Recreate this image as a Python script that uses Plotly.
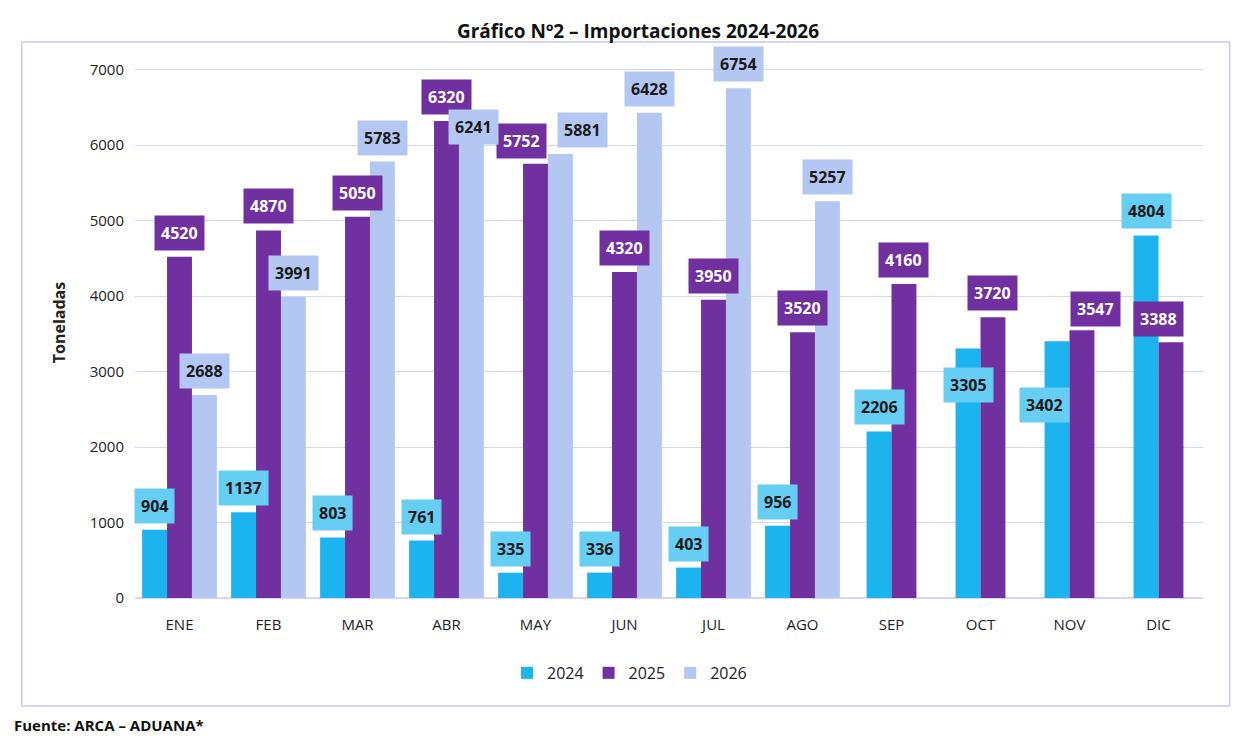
import plotly.graph_objects as go

#----- DATA --------------------------------------------------------------------
months = ['ENE', 'FEB', 'MAR', 'ABR', 'MAY', 'JUN', 'JUL', 'AGO',
          'SEP', 'OCT', 'NOV', 'DIC']
v2024 = [904, 1137, 803, 761, 335, 336, 403, 956, 2206, 3305, 3402, 4804]
v2025 = [4520, 4870, 5050, 6320, 5752, 4320, 3950, 3520, 4160, 3720, 3547, 3388]
v2026 = [2688, 3991, 5783, 6241, 5881, 6428, 6754, 5257]

bar_colors = ['#1CB4EE', '#7030A0', '#B4C7F2']
box_colors = ['#66CDF3', '#7030A0', '#B4C7F2']
text_colors = ['#1a1a1a', 'white', '#1a1a1a']
FONT = 'Open Sans'
W = 0.28

# label nudges (xshift, yshift) where the labels would collide
nudge = {
    ('2026', 'ABR'): (2, 0),
    ('2025', 'MAY'): (-14, 23),
    ('2026', 'MAY'): (22, 24),
    ('2024', 'OCT'): (0, -36),
    ('2024', 'NOV'): (-13, -64),
    ('2025', 'NOV'): (14, 21),
    ('2025', 'DIC'): (-12, 23),
}

#----- OFFSETS (3 bars while 2026 exists, then 2 centred bars) -----------------
n26 = len(v2026)
off24 = [-1.5 * W if i < n26 else -W for i in range(12)]
off25 = [-0.5 * W if i < n26 else 0 for i in range(12)]
off26 = [0.5 * W] * n26

x_idx = list(range(12))
series = [
    ('2024', x_idx, v2024, off24),
    ('2025', x_idx, v2025, off25),
    ('2026', x_idx[:n26], v2026, off26),
]

fig = go.Figure()
for k, (name, xs, ys, offs) in enumerate(series):
    fig.add_trace(go.Bar(
        name=name, x=xs, y=ys, offset=offs, width=W,
        marker=dict(color=bar_colors[k], line=dict(width=0)),
    ))
    for xi, yi, oi in zip(xs, ys, offs):
        dx, dy = nudge.get((name, months[xi]), (0, 24))
        fig.add_annotation(
            x=xi + oi + W / 2, y=yi, xshift=dx, yshift=dy, text=f'<b>{yi}</b>',
            showarrow=False, bgcolor=box_colors[k], borderpad=6,
            font=dict(family=FONT, size=16, color=text_colors[k]),
        )

fig.update_layout(
    width=1260, height=744,
    margin=dict(l=127, r=65, t=39, b=154),
    paper_bgcolor='white', plot_bgcolor='white',
    barmode='overlay',
    font=dict(family=FONT, color='#222'),
    title=dict(text='<b>Gráfico Nº2 – Importaciones 2024-2026</b>',
               x=0.5, xanchor='center', yref='container', y=0.977,
               font=dict(size=19, color='#111')),
    xaxis=dict(tickmode='array', tickvals=x_idx, ticktext=months,
               range=[-0.5, 11.5], showgrid=False, showline=False,
               ticks='', tickfont=dict(size=15), ticklabelstandoff=16),
    yaxis=dict(range=[0, 7300], dtick=1000, showgrid=True,
               gridcolor='#D6D6EE', zeroline=True, zerolinecolor='#D6D6EE',
               tickfont=dict(size=15), ticklabelstandoff=10,
               title=dict(text='<b>Toneladas</b>', font=dict(size=16),
                          standoff=20)),
    legend=dict(orientation='h', x=0.463, xanchor='center', y=-0.136,
                yanchor='middle', font=dict(size=16), traceorder='normal'),
    showlegend=True,
)

fig.add_shape(type='rect', xref='paper', yref='paper',
              x0=-0.106, x1=1.025, y0=-0.196, y1=1.009,
              line=dict(color='#C9C9EE', width=1.5))
fig.add_annotation(
    text='<b>Fuente: ARCA – ADUANA*</b>', xref='paper', yref='paper',
    x=-0.115, y=-0.23, xanchor='left', yanchor='middle', showarrow=False,
    font=dict(family=FONT, size=15, color='#111'),
)
fig.write_html('out.html')
